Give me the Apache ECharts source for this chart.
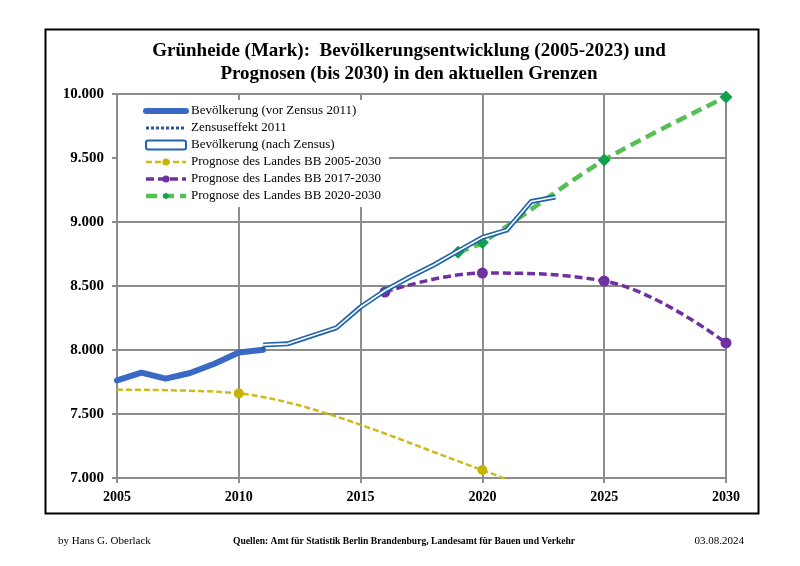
<!DOCTYPE html>
<html>
<head>
<meta charset="utf-8">
<script src="https://cdn.jsdelivr.net/npm/echarts@6/dist/echarts.min.js"></script>
<style>html,body{margin:0;padding:0;background:#fff}#c{width:800px;height:566px}</style>
</head>
<body>
<div id="c"></div>
<script>
// ---- data ----
var yearsVor = [2005, 2006, 2007, 2008, 2009, 2010, 2011];
var popVor = [7762, 7823, 7776, 7820, 7893, 7980, 8002];
var yearsZensus = [2011, 2011];
var popZensus = [8002, 8040];
var yearsNach = [2011, 2012, 2013, 2014, 2015, 2016, 2017, 2018, 2019, 2020, 2021, 2022, 2023];
var popNach = [8040, 8048, 8111, 8173, 8336, 8465, 8568, 8664, 8773, 8880, 8937, 9160, 9195];
var yearsP05 = [2005, 2010, 2020, 2025, 2030];
var popP05 = [7690, 7661, 7062, 6650, 6250];
var yearsP17 = [2016, 2020, 2025, 2030];
var popP17 = [8453, 8601, 8539, 8055];
var yearsP20 = [2019, 2020, 2025, 2030];
var popP20 = [8764, 8840, 9484, 9977];
var xTicks = [2005, 2010, 2015, 2020, 2025, 2030];
var yTicks = [7000, 7500, 8000, 8500, 9000, 9500, 10000];

var names = ['Bevölkerung (vor Zensus 2011)', 'Zensuseffekt 2011', 'Bevölkerung (nach Zensus)',
  'Prognose des Landes BB 2005-2030', 'Prognose des Landes BB 2017-2030', 'Prognose des Landes BB 2020-2030'];

function pairs(xs, ys) { return xs.map(function (x, i) { return [x, ys[i]]; }); }
function fmt(v) { return String(v).replace(/\B(?=(\d{3})+(?!\d))/g, '.'); }

var SERIF = '"Liberation Serif", "DejaVu Serif", serif';
var p05 = pairs(yearsP05, popP05);
p05[0] = { value: p05[0], symbolSize: 0 };

var chart = echarts.init(document.getElementById('c'), null, { renderer: 'canvas' });
chart.setOption({
  animation: false,
  backgroundColor: '#fff',
  title: [
    { text: 'Grünheide (Mark):  Bevölkerungsentwicklung (2005-2023) und\nPrognosen (bis 2030) in den aktuellen Grenzen',
      left: 404, textAlign: 'center', top: 35,
      textStyle: { fontFamily: SERIF, fontWeight: 'bold', fontSize: 19, lineHeight: 23, color: '#000' } },
    { text: 'by Hans G. Oberlack', left: 53, top: 531,
      textStyle: { fontFamily: SERIF, fontWeight: 'normal', fontSize: 11, color: '#000' } },
    { text: 'Quellen: Amt für Statistik Berlin Brandenburg, Landesamt für Bauen und Verkehr', left: 228, top: 532,
      textStyle: { fontFamily: SERIF, fontWeight: 'bold', fontSize: 9.6, color: '#000' } },
    { text: '03.08.2024', right: 51, top: 531,
      textStyle: { fontFamily: SERIF, fontWeight: 'normal', fontSize: 11, color: '#000' } }
  ],
  graphic: [
    { type: 'rect', left: 43, top: 27, shape: { width: 713, height: 484 },
      style: { fill: 'none', stroke: '#000', lineWidth: 2 }, z: 100 }
  ],
  legend: {
    orient: 'vertical', left: 118, top: 100,
    backgroundColor: '#fff',
    padding: [3, 8, 3, 25],
    itemWidth: 40, itemHeight: 9, itemGap: 1,
    lineStyle: { width: 'inherit' },
    textStyle: { fontFamily: SERIF, fontSize: 13, color: '#000', lineHeight: 16 },
    data: [
      { name: names[0], itemStyle: { opacity: 0 } },
      { name: names[1], itemStyle: { opacity: 0 } },
      { name: names[2], icon: 'roundRect', itemStyle: { color: '#fff', borderColor: '#2166ac', borderWidth: 2 } },
      { name: names[3] },
      { name: names[4] },
      { name: names[5] }
    ],
    z: 10
  },
  grid: { left: 117, right: 74, top: 94, bottom: 88 },
  xAxis: {
    type: 'value', min: xTicks[0], max: xTicks[xTicks.length - 1], interval: 5,
    axisLine: { show: true, lineStyle: { color: '#8c8c8c', width: 2 } },
    axisTick: { show: true, length: 5, lineStyle: { color: '#8c8c8c', width: 2 } },
    axisLabel: { fontFamily: SERIF, fontWeight: 'bold', fontSize: 14, color: '#000', margin: 12,
      formatter: function (v) { return String(v); } },
    splitLine: { show: true, lineStyle: { color: '#8c8c8c', width: 2 } }
  },
  yAxis: {
    type: 'value', min: yTicks[0], max: yTicks[yTicks.length - 1], interval: 500,
    axisLine: { show: true, lineStyle: { color: '#8c8c8c', width: 2 } },
    axisTick: { show: true, length: 5, lineStyle: { color: '#8c8c8c', width: 2 } },
    axisLabel: { fontFamily: SERIF, fontWeight: 'bold', fontSize: 15, color: '#000', margin: 13,
      formatter: function (v) { return fmt(v); } },
    splitLine: { show: true, lineStyle: { color: '#8c8c8c', width: 2 } }
  },
  series: [
    { name: names[0], type: 'line', data: pairs(yearsVor, popVor), symbol: 'none',
      lineStyle: { color: '#3a68c4', width: 6, cap: 'round', join: 'round' }, itemStyle: { color: '#3a68c4' }, z: 5 },
    { name: names[1], type: 'line', data: pairs(yearsZensus, popZensus), symbol: 'none',
      lineStyle: { color: '#2f5597', width: 3, type: [3, 2] }, itemStyle: { color: '#2f5597' }, z: 5 },
    { name: names[2], type: 'line', data: pairs(yearsNach, popNach), symbol: 'none',
      lineStyle: { color: '#2166ac', width: 5, join: 'round' }, itemStyle: { color: '#2166ac' }, z: 6 },
    { name: names[2], type: 'line', data: pairs(yearsNach, popNach), symbol: 'none',
      lineStyle: { color: '#ffffff', width: 1.6, join: 'round' }, itemStyle: { color: '#ffffff' }, z: 7 },
    { name: names[3], type: 'line', data: p05, smooth: 0.3, clip: true,
      symbol: 'circle', symbolSize: 10,
      lineStyle: { color: '#cdbb1a', width: 2.5, type: [6, 3] }, itemStyle: { color: '#c8b400' }, z: 4 },
    { name: names[4], type: 'line', data: pairs(yearsP17, popP17), smooth: 0.4, clip: true,
      symbol: 'circle', symbolSize: 11,
      lineStyle: { color: '#7030a0', width: 3.5, type: [8, 4] }, itemStyle: { color: '#7030a0' }, z: 4 },
    { name: names[5], type: 'line', data: pairs(yearsP20, popP20), smooth: 0.3, clip: false,
      symbol: 'diamond', symbolSize: 13,
      lineStyle: { color: '#55bf55', width: 4.5, type: [11, 6] }, itemStyle: { color: '#12a04a' }, z: 5 }
  ]
});
</script>
</body>
</html>
